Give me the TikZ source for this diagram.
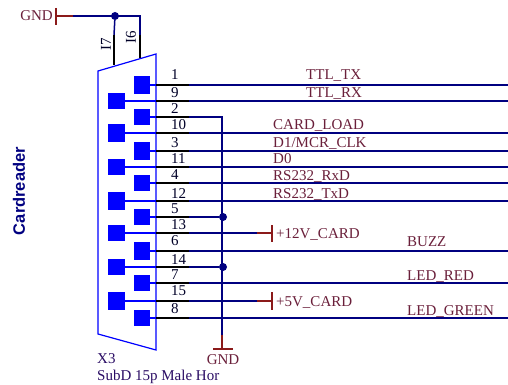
\documentclass[tikz,border=0pt]{standalone}
\usepackage{fontspec}
\setmainfont{Liberation Serif}
\setsansfont{Liberation Sans}
\definecolor{netblue}{HTML}{000080}
\definecolor{supplyred}{HTML}{8B1A1A}
\definecolor{labelred}{HTML}{6A1F3A}
\tikzset{
	netwire/.style={netblue, line width=1.5pt},
	stubwire/.style={black, line width=1.5pt},
	padwire/.style={blue, line width=1.1pt},
	supply/.style={supplyred, line width=1.5pt},
	padbox/.style={draw=none, fill=blue, inner sep=0pt},
	junction/.style={circle, fill=netblue, inner sep=0pt, minimum size=8pt},
	pinlabel/.style={text=black!70!netblue, font=\fontsize{15}{16}\selectfont, inner sep=0pt},
	netlabel/.style={text=labelred, font=\fontsize{15}{16}\selectfont, inner sep=0pt, anchor=west, yshift=-1pt},
	partlabel/.style={text=netblue!60!labelred, font=\fontsize{15}{16}\selectfont, inner sep=0pt, anchor=west}
}
\newcommand{\subdpin}[6] % {pin}{pad x}{pad width}{pad height}{wire y}{number y}
{
	\node [padbox, minimum width=#3pt, minimum height=#4pt] (pad#1) at (#2,#5) {};
	\coordinate (shell#1) at (156,#5);
	\coordinate (stub#1) at (189,#5);
	\draw [padwire] (pad#1) -- (shell#1);
	\draw [stubwire] (shell#1) -- (stub#1);
	\node [pinlabel, anchor=west] (num#1) at (171,#6) {#1};
}
\begin{document}
\begin{tikzpicture}[x=1pt,y=-1pt]
	\useasboundingbox (0,0) rectangle (508,385);
	%shell of the connector
	\coordinate (shellTL) at (98,71);
	\coordinate (shellTR) at (156,54);
	\coordinate (shellBR) at (156,350);
	\coordinate (shellBL) at (98,334);
	\draw [blue, line width=1.2pt] (shellTL) -- (shellTR) -- (shellBR) -- (shellBL) -- cycle;

	\subdpin{1}{141.5}{16}{18}{85}{75}
	\subdpin{9}{116.5}{17}{16}{101}{93}
	\subdpin{2}{141.5}{16}{16}{117}{109}
	\subdpin{10}{116.5}{17}{18}{133}{125}
	\subdpin{3}{141.5}{16}{18}{151}{143}
	\subdpin{11}{116.5}{17}{16}{167}{159}
	\subdpin{4}{141.5}{16}{16}{183}{175}
	\subdpin{12}{116.5}{17}{18}{201}{194}
	\subdpin{5}{141.5}{16}{16}{217}{209}
	\subdpin{13}{116.5}{17}{16}{233}{225}
	\subdpin{6}{141.5}{16}{18}{251}{241}
	\subdpin{14}{116.5}{17}{16}{267}{260}
	\subdpin{7}{141.5}{16}{16}{283}{275}
	\subdpin{15}{116.5}{17}{18}{301}{291}
	\subdpin{8}{141.5}{16}{16}{318}{309}

	%wires leaving to the right
	\coordinate (endA) at (508,85);
	\coordinate (endB) at (508,101);
	\coordinate (endC) at (508,133);
	\coordinate (endD) at (508,151);
	\coordinate (endE) at (508,167);
	\coordinate (endF) at (508,183);
	\coordinate (endG) at (508,201);
	\coordinate (endH) at (508,251);
	\coordinate (endI) at (508,283);
	\coordinate (endJ) at (508,318);
	\draw [netwire] (stub1) -- (endA);
	\draw [netwire] (stub9) -- (endB);
	\draw [netwire] (stub10) -- (endC);
	\draw [netwire] (stub3) -- (endD);
	\draw [netwire] (stub11) -- (endE);
	\draw [netwire] (stub4) -- (endF);
	\draw [netwire] (stub12) -- (endG);
	\draw [netwire] (stub6) -- (endH);
	\draw [netwire] (stub7) -- (endI);
	\draw [netwire] (stub8) -- (endJ);

	%ground rail
	\node [junction] (dotA) at (223,217) {};
	\node [junction] (dotB) at (223,267) {};
	\coordinate (railTop) at (222,117);
	\coordinate (railEnd) at (222,335);
	\coordinate (gndFoot) at (222,349);
	\coordinate (gndBarL) at (213,349);
	\coordinate (gndBarR) at (233,349);
	\draw [netwire] (stub2) -- (railTop) -- (railEnd);
	\draw [netwire] (stub5) -- (dotA);
	\draw [netwire] (stub14) -- (dotB);
	\draw [supply] (railEnd) -- (gndFoot);
	\draw [supply] (gndBarL) -- (gndBarR);
	\node [netlabel, anchor=center, yshift=1pt] (gndB) at (223,360) {GND};

	%supply pins
	\coordinate (cardA) at (257,233);
	\coordinate (cardATip) at (272,233);
	\coordinate (cardABarT) at (272,225);
	\coordinate (cardABarB) at (272,242);
	\draw [netwire] (stub13) -- (cardA);
	\draw [supply] (cardA) -- (cardATip);
	\draw [supply] (cardABarT) -- (cardABarB);
	\coordinate (cardB) at (257,301);
	\coordinate (cardBTip) at (272,301);
	\coordinate (cardBBarT) at (272,292);
	\coordinate (cardBBarB) at (272,310);
	\draw [netwire] (stub15) -- (cardB);
	\draw [supply] (cardB) -- (cardBTip);
	\draw [supply] (cardBBarT) -- (cardBBarB);
	\node [netlabel] (labA) at (276,233) {+12V\_CARD};
	\node [netlabel] (labB) at (276,301) {+5V\_CARD};

	%top ground
	\node [junction] (dotTop) at (115,16) {};
	\coordinate (topBarT) at (56,8);
	\coordinate (topBarB) at (56,25);
	\coordinate (topFoot) at (56,16);
	\coordinate (topRed) at (73,16);
	\coordinate (topCorner) at (140,16);
	\coordinate (shieldA) at (114,35);
	\coordinate (shieldAEnd) at (114,65);
	\coordinate (shieldB) at (140,35);
	\coordinate (shieldBEnd) at (140,58);
	\draw [supply] (topBarT) -- (topBarB);
	\draw [supply] (topFoot) -- (topRed);
	\draw [netwire] (topRed) -- (topCorner) -- (shieldB);
	\draw [netwire] (dotTop) -- (shieldA);
	\draw [stubwire] (shieldA) -- (shieldAEnd);
	\draw [stubwire] (shieldB) -- (shieldBEnd);
	\node [netlabel, anchor=east, yshift=1pt] (gndA) at (53,16) {GND};
	\node [pinlabel, rotate=90] (shieldNumA) at (106,44) {I7};
	\node [pinlabel, rotate=90] (shieldNumB) at (131,37) {I6};

	\node [netlabel] (ttlTx) at (306,75) {TTL\_TX};
	\node [netlabel] (ttlRx) at (306,93) {TTL\_RX};
	\node [netlabel] (cardLoad) at (273,125) {CARD\_LOAD};
	\node [netlabel] (mcrClk) at (273,143) {D1/MCR\_CLK};
	\node [netlabel, yshift=1pt] (dZero) at (273,159) {D0};
	\node [netlabel] (rsRx) at (273,175) {RS232\_RxD};
	\node [netlabel] (rsTx) at (273,193) {RS232\_TxD};
	\node [netlabel, yshift=1pt] (buzz) at (407,242) {BUZZ};
	\node [netlabel] (ledRed) at (407,276) {LED\_RED};
	\node [netlabel] (ledGreen) at (407,310) {LED\_GREEN};

	\node [partlabel] (partName) at (97,359) {X3};
	\node [partlabel] (partType) at (97,377) {SubD 15p Male Hor};
	\node [text=netblue, rotate=90, inner sep=0pt, font=\sffamily\bfseries\fontsize{16.5}{18}\selectfont] (title) at (19,191) {Cardreader};
\end{tikzpicture}
\end{document}
